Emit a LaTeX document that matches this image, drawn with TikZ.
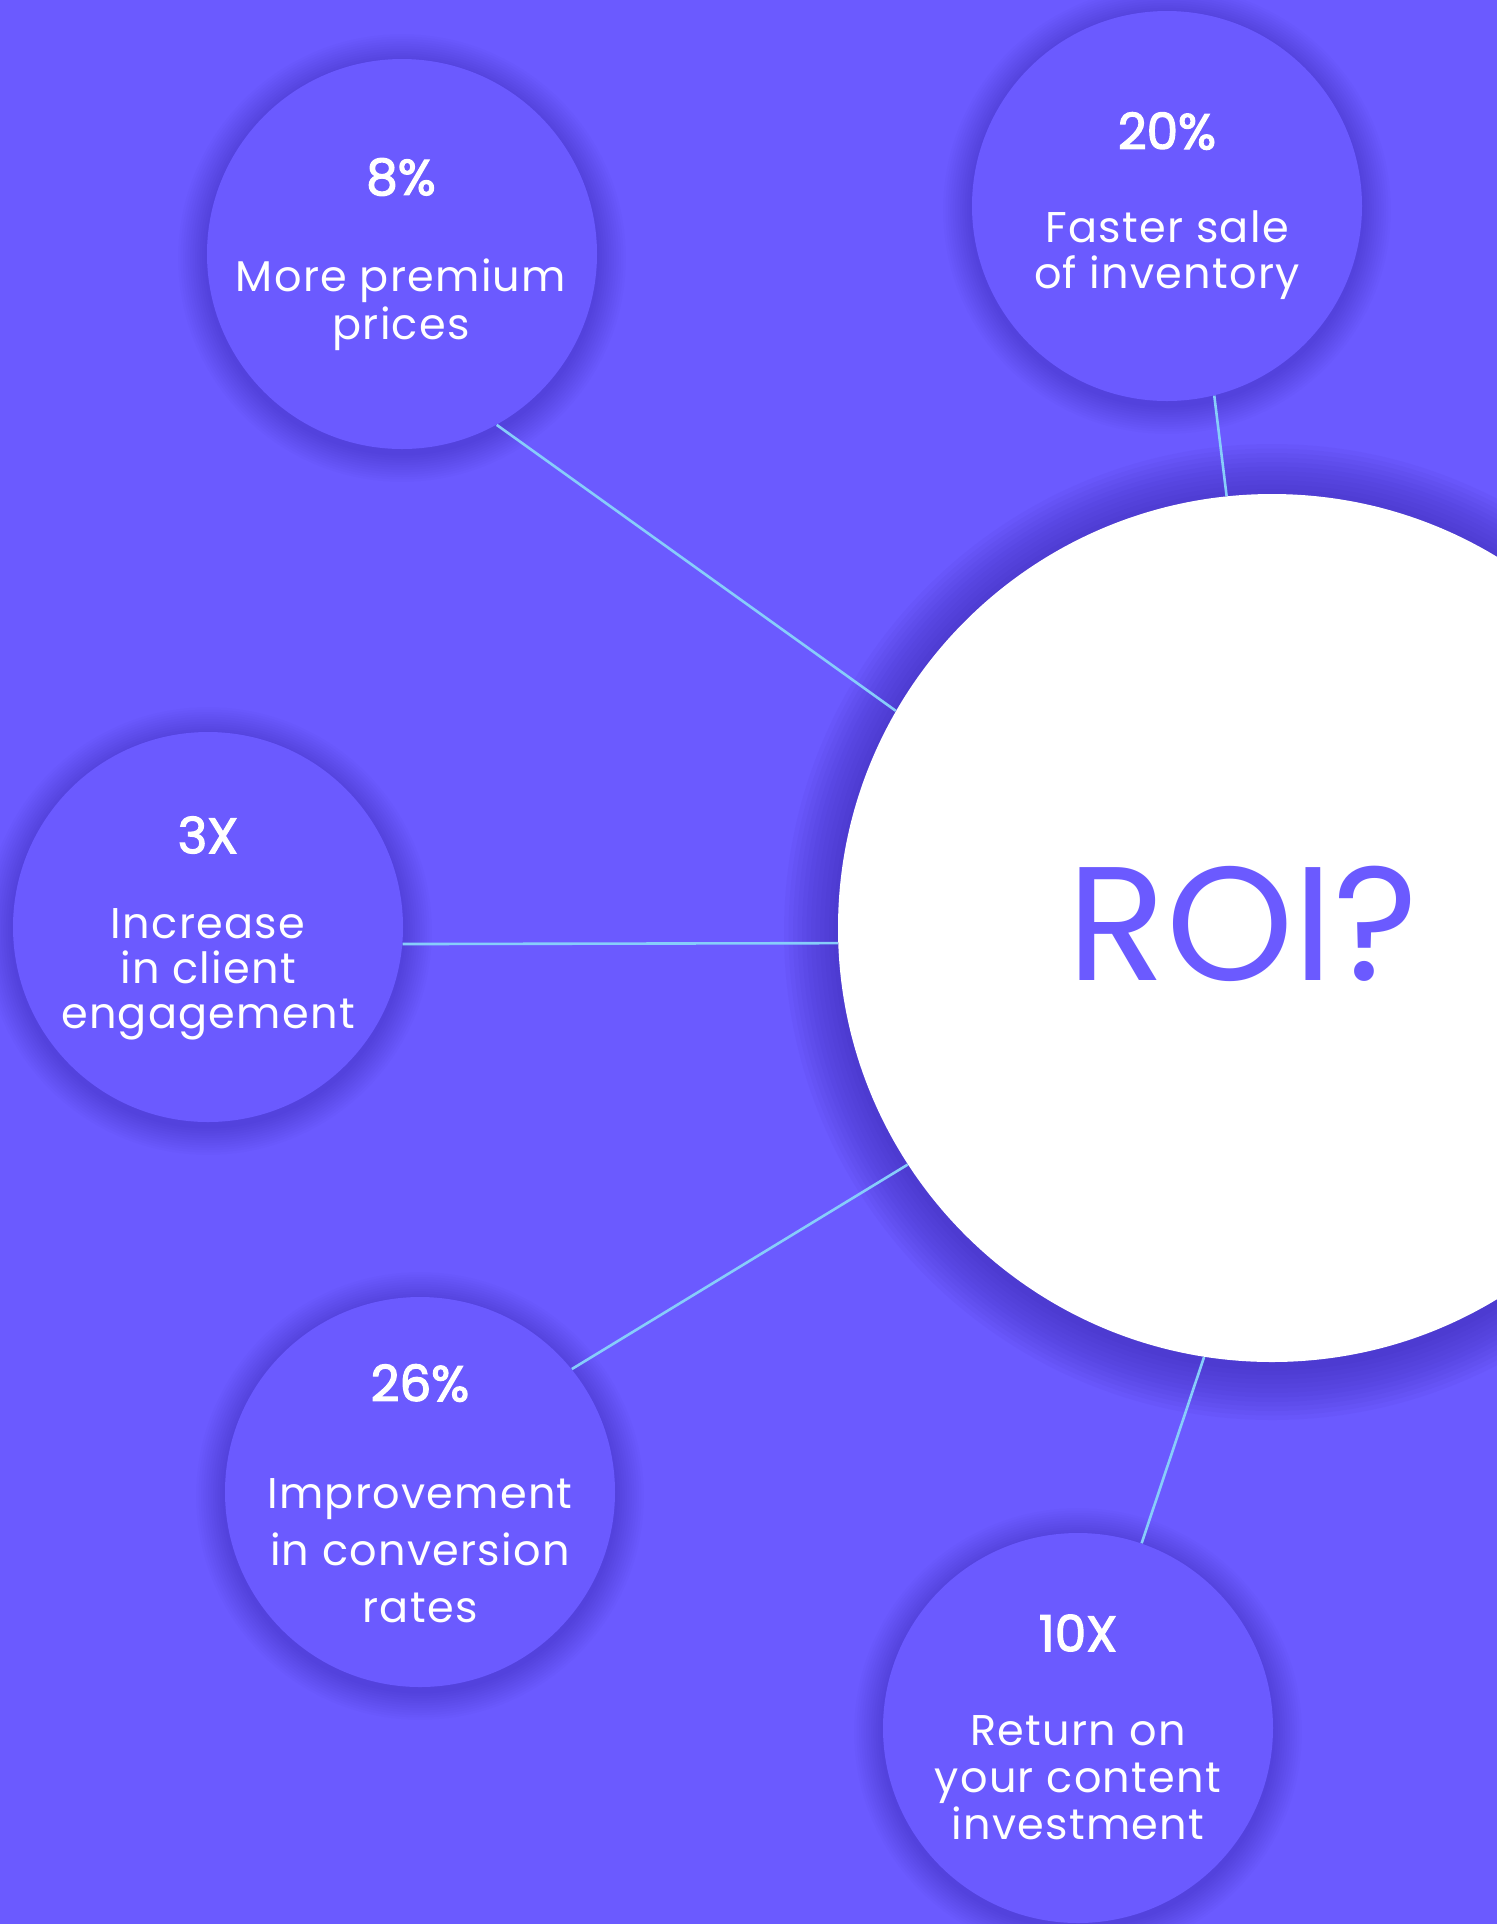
\documentclass[tikz,border=0pt]{standalone}
\usepackage{fontspec}
\setmainfont{Poppins}
\newfontfamily\titlefont[FakeBold=2.5]{Poppins}
\newfontfamily\bodyfont[LetterSpace=3]{Poppins}
\definecolor{bg}{RGB}{107,90,255}
\definecolor{shadec}{RGB}{55,35,170}
\definecolor{linec}{RGB}{135,205,250}
\newcommand\myhalo[5]{% x, y, r, step, opacity
  \foreach \k in {1,...,12} {
    \fill[shadec, opacity=#5] (#1,#2+4) circle[radius=#3+\k*#4];
  }}
\begin{document}
\begin{tikzpicture}[x=0.5pt,y=-0.5pt,
  bub/.style={circle,fill=bg,minimum size=195pt,inner sep=0pt},
  roi/.style={circle,fill=white,minimum size=434pt,inner sep=0pt},
  ttl/.style={text=white,font=\titlefont\fontsize{25}{29}\selectfont,inner sep=0pt},
  bdy/.style={text=white,font=\bodyfont\fontsize{21.5}{25}\selectfont,anchor=base,inner sep=0pt},
  conn/.style={draw=linec,line width=1.3pt}]
\useasboundingbox (0,0) rectangle (1497,1924);
\clip (0,0) rectangle (1497,1924);
\fill[bg] (0,0) rectangle (1497,1924);
% halos
\myhalo{402}{254}{195}{2.4}{0.035}
\myhalo{1167}{206}{195}{2.4}{0.035}
\myhalo{208}{927}{195}{2.4}{0.035}
\myhalo{420}{1492}{195}{2.4}{0.035}
\myhalo{1078}{1728}{195}{2.4}{0.035}
\myhalo{1272}{928}{434}{4.5}{0.055}
% circles
\node[bub] (c8) at (402,254) {};
\node[bub] (c20) at (1167,206) {};
\node[bub] (c3) at (208,927) {};
\node[bub] (c26) at (420,1492) {};
\node[bub] (c10) at (1078,1728) {};
\node[roi] (roi) at (1272,928) {};
% connectors
\draw[conn] (c8.-61) -- (roi.150);
\draw[conn] (c20.-76) -- (roi.96);
\draw[conn] (c3.-5) -- (roi.182.5);
\draw[conn] (c26.39) -- (roi.-147);
\draw[conn] (c10.71) -- (roi.-99.4);
% texts
\node[text=bg,font=\fontsize{81}{93}\selectfont,anchor=base,inner sep=0pt] (roit) at (1243,980) {ROI?};
\node[ttl] (t8) at (401,177) {8\%};
\node[bdy] (b8a) at (401,291) {More premium};
\node[bdy] (b8b) at (401,339) {prices};
\node[ttl] (t20) at (1167,131) {20\%};
\node[bdy] (b20a) at (1167,242) {Faster sale};
\node[bdy] (b20b) at (1167,288) {of inventory};
\node[ttl] (t3) at (208,835) {3X};
\node[bdy] (b3a) at (208,938) {Increase};
\node[bdy] (b3b) at (208,983) {in client};
\node[bdy] (b3c) at (208,1028) {engagement};
\node[ttl] (t26) at (420,1383) {26\%};
\node[bdy] (b26a) at (420,1508) {Improvement};
\node[bdy] (b26b) at (420,1565) {in conversion};
\node[bdy] (b26c) at (420,1622) {rates};
\node[ttl] (t10) at (1078,1633) {10X};
\node[bdy] (b10a) at (1078,1745) {Return on};
\node[bdy] (b10b) at (1078,1792) {your content};
\node[bdy] (b10c) at (1078,1839) {investment};
\end{tikzpicture}
\end{document}
